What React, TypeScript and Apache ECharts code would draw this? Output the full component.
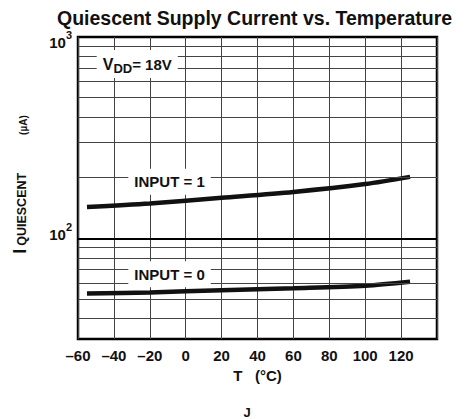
import React, { useEffect, useRef } from "react";
import * as echarts from "echarts";

const temps = [-55, -20, 20, 60, 100, 125];
const input1 = [143, 149, 159, 170, 186, 202];
const input0 = [53.2, 53.8, 55.3, 56.5, 58.1, 60.8];
const minorGrid = [40, 50, 60, 70, 80, 90, 200, 300, 400, 500, 600, 700, 800, 900];
const decadeGrid = [100];
const xTicks = [-60, -40, -20, 0, 20, 40, 60, 80, 100, 120];

const FONT = "'Liberation Sans', Arial, Helvetica, sans-serif";

export default function App() {
  const ref = useRef<HTMLDivElement>(null);
  useEffect(() => {
    if (!ref.current) return;
    const chart = echarts.init(ref.current, null, { renderer: "svg" });
    const toPairs = (ys: number[]) => temps.map((t, i) => [t, ys[i]]);
    const bold = { fontWeight: "bold", color: "#111", fontFamily: FONT };
    chart.setOption({
      animation: false,
      backgroundColor: "#fff",
      textStyle: { fontFamily: FONT },
      title: {
        text: "Quiescent Supply Current vs. Temperature",
        left: 52,
        top: 3,
        textStyle: { fontSize: 19.5, fontWeight: "bold", color: "#111", fontFamily: FONT },
      },
      grid: {
        left: 78,
        top: 37,
        right: 29,
        bottom: 80,
        show: true,
        borderColor: "#000",
        borderWidth: 2.5,
        outerBoundsMode: "none",
        containLabel: false,
      },
      xAxis: {
        type: "value",
        min: -60,
        max: 140,
        interval: 20,
        axisLine: { show: false },
        axisTick: { show: false },
        splitLine: { show: true, lineStyle: { color: "#444", width: 1 } },
        axisLabel: {
          margin: 9,
          fontSize: 15,
          ...bold,
          formatter: (v: number) =>
            xTicks.indexOf(v) >= 0 ? String(v).replace("-", "\u2013") : "",
        },
        name: "T   (\u00b0C)",
        nameLocation: "middle",
        nameGap: 29,
        nameTextStyle: { fontSize: 15, ...bold },
      },
      yAxis: {
        type: "log",
        logBase: 10,
        min: Math.pow(10, 1.5),
        max: 1000,
        axisLine: { show: false },
        axisTick: { show: false },
        splitLine: { show: false },
        axisLabel: {
          margin: 6,
          color: "#111",
          fontFamily: FONT,
          formatter: (v: number) => {
            if (Math.abs(v - 100) < 1) return "{a|10}{b|2}";
            if (Math.abs(v - 1000) < 1) return "{c|10}{d|3}";
            return "";
          },
          rich: {
            a: { fontSize: 15, ...bold, padding: [0, 0, 8, 0] },
            b: { fontSize: 11, ...bold, padding: [0, 0, 22, 0] },
            c: { fontSize: 15, ...bold, padding: [10, 0, 0, 0] },
            d: { fontSize: 11, ...bold, padding: [0, 0, 4, 0] },
          },
        },
        name: "{i|I}{s|QUIESCENT}{u|(\u00b5A)}",
        nameLocation: "middle",
        nameGap: 49,
        nameRotate: 90,
        nameTextStyle: {
          color: "#111",
          fontFamily: FONT,
          rich: {
            i: { fontSize: 18, ...bold, padding: [0, 0, 0, 7] },
            s: { fontSize: 12.5, ...bold, padding: [4, 0, 0, 3] },
            u: { fontSize: 10, ...bold, padding: [6, 0, 0, 38] },
          },
        },
      },
      graphic: [
        {
          type: "text",
          x: 247,
          y: 412,
          style: { text: "J", fontSize: 13, fontWeight: "bold", fill: "#111", fontFamily: FONT, align: "center", verticalAlign: "middle" },
        },
      ],
      series: [
        {
          type: "line",
          name: "grid",
          data: [],
          z: 2,
          silent: true,
          markLine: {
            silent: true,
            symbol: "none",
            label: { show: false },
            animation: false,
            data: [
              ...minorGrid.map((v) => ({ yAxis: v, lineStyle: { color: "#444", width: 1, type: "solid" } })),
              ...decadeGrid.map((v) => ({ yAxis: v, lineStyle: { color: "#000", width: 2, type: "solid" } })),
            ],
          },
        },
        {
          type: "line",
          name: "INPUT = 1",
          data: toPairs(input1),
          showSymbol: false,
          smooth: 0.3,
          z: 3,
          lineStyle: { color: "#111", width: 4.5 },
          itemStyle: { color: "#111" },
        },
        {
          type: "line",
          name: "INPUT = 0",
          data: toPairs(input0),
          showSymbol: false,
          smooth: 0.3,
          z: 3,
          lineStyle: { color: "#111", width: 4.5 },
          itemStyle: { color: "#111" },
        },
        {
          type: "line",
          name: "labels",
          data: [],
          z: 4,
          silent: true,
          markPoint: {
            symbol: "circle",
            symbolSize: 0,
            animation: false,
            label: {
              show: true,
              position: "inside",
              backgroundColor: "#fff",
              color: "#111",
              fontFamily: FONT,
              fontWeight: "bold",
              fontSize: 15,
            },
            data: [
              {
                coord: [-9, 191],
                label: { formatter: "INPUT = 1", padding: [6, 6, 5, 6] },
              },
              {
                coord: [-9, 66.4],
                label: { formatter: "INPUT = 0", padding: [6, 6, 5, 6] },
              },
              {
                coord: [-27, 735],
                label: {
                  formatter: "{v|V}{d|DD}{e|= 18V}",
                  padding: [4, 6, 3, 6],
                  rich: {
                    v: { fontSize: 16, ...bold },
                    d: { fontSize: 13, ...bold, padding: [8, 0, 0, 0] },
                    e: { fontSize: 15, ...bold },
                  },
                },
              },
            ],
          },
        },
      ],
    });
    return () => chart.dispose();
  }, []);
  return (
    <div
      ref={ref}
      style={{ position: "fixed", left: 0, top: 0, width: 466, height: 419, background: "#fff" }}
    />
  );
}
